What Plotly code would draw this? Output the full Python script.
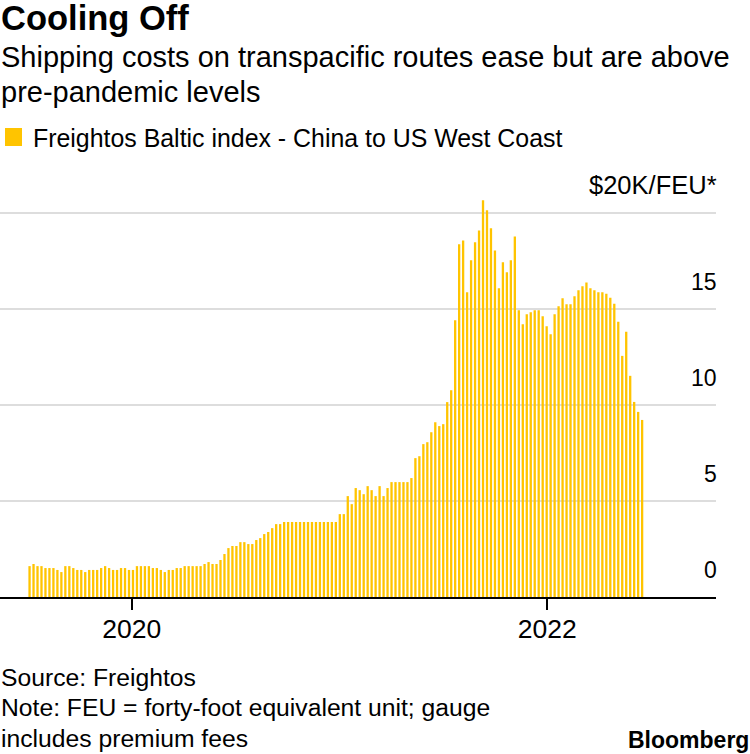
import plotly.graph_objects as go
import pandas as pd

# Weekly Freightos Baltic index, China to US West Coast ($K per FEU)
week_start = "2019-07-05"
n_weeks = 155
values = [
    1.61, 1.72, 1.61, 1.61, 1.51, 1.51, 1.51, 1.41, 1.30, 1.61,
    1.61, 1.51, 1.41, 1.41, 1.30, 1.41, 1.41, 1.41, 1.51, 1.61,
    1.51, 1.41, 1.41, 1.51, 1.51, 1.41, 1.41,
    1.61, 1.61, 1.61, 1.61, 1.51, 1.51, 1.41, 1.30, 1.41, 1.41,
    1.51, 1.51, 1.61, 1.61, 1.61, 1.61, 1.61, 1.72, 1.82, 1.72,
    1.72, 1.93, 2.24, 2.55, 2.66, 2.66,
    2.86, 2.86, 2.76, 2.76, 2.97, 3.07, 3.28, 3.39, 3.59, 3.80, 3.80,
    3.91, 3.91, 3.91, 3.91, 3.91, 3.91, 3.91, 3.91, 3.91, 3.91,
    3.91, 3.91, 3.91, 3.91,
    4.32, 4.32, 5.26, 4.84, 5.68, 5.57, 5.36, 5.78, 5.57, 5.26,
    5.78, 5.26, 5.68, 5.99, 5.99, 5.99, 5.99, 5.99, 6.20, 7.24,
    7.34, 7.97, 8.07, 8.59, 9.11, 8.91, 9.01, 10.16, 10.78,
    14.43, 18.39, 18.59, 15.89, 17.55, 18.49, 19.11, 20.68, 20.16, 19.22,
    18.07, 16.09, 17.45, 16.93, 17.55, 18.80, 14.95, 14.22, 14.74, 14.84,
    14.95, 14.95, 14.64, 14.11, 13.70, 14.74, 15.16, 15.57, 15.26, 15.26,
    15.68, 15.99, 16.20, 16.40, 16.10, 15.99, 15.89, 15.89, 15.81, 15.60,
    15.29, 14.35, 12.57, 13.83, 11.53, 10.17, 9.65, 9.23,
]
dates = pd.date_range(week_start, periods=n_weeks, freq="7D")

x_tick_vals = ["2020-01-01", "2022-01-01"]
x_tick_text = ["2020", "2022"]
y_tick_vals = [0, 5, 10, 15, 20]
y_tick_text = ["0", "5", "10", "15", "$20K/FEU*"]

title = "Cooling Off"
subtitle_1 = "Shipping costs on transpacific routes ease but are above"
subtitle_2 = "pre-pandemic levels"
legend_label = "Freightos Baltic index - China to US West Coast"
footer = ["Source: Freightos",
          "Note: FEU = forty-foot equivalent unit; gauge",
          "includes premium fees"]

BAR = "#FFC400"
FONT = "Liberation Sans, Arial, sans-serif"

W, H = 750, 754
M_T, M_B, M_L, M_R = 175, 157, 0, 34
PLOT_H = H - M_T - M_B


def py(px):
    """pixel y (from top) -> paper y"""
    return (H - M_B - px) / PLOT_H


fig = go.Figure()
fig.add_trace(go.Bar(x=dates, y=values, marker=dict(color=BAR, line=dict(width=0)),
                     name=legend_label, showlegend=False))

ann = []
ann.append(dict(text="<b>" + title + "</b>", x=0, y=py(18), xref="paper", yref="paper",
                xanchor="left", yanchor="middle", showarrow=False, xshift=-1,
                font=dict(size=34.5, color="#000", family=FONT)))
ann.append(dict(text=subtitle_1, x=0, y=py(57), xref="paper", yref="paper",
                xanchor="left", yanchor="middle", showarrow=False, xshift=-1,
                font=dict(size=29, color="#000", family=FONT)))
ann.append(dict(text=subtitle_2, x=0, y=py(92), xref="paper", yref="paper",
                xanchor="left", yanchor="middle", showarrow=False, xshift=-1,
                font=dict(size=29, color="#000", family=FONT)))
ann.append(dict(text=legend_label, x=0, y=py(138), xref="paper", yref="paper",
                xanchor="left", yanchor="middle", showarrow=False, xshift=31,
                font=dict(size=24.9, color="#000", family=FONT)))
for i, line in enumerate(footer):
    ann.append(dict(text=line, x=0, y=py(677 + 30.5 * i), xref="paper", yref="paper",
                    xanchor="left", yanchor="middle", showarrow=False, xshift=-1,
                    font=dict(size=24.7, color="#000", family=FONT)))
ann.append(dict(text="<b>Bloomberg</b>", x=1, y=py(740), xref="paper", yref="paper",
                xanchor="right", yanchor="middle", showarrow=False, xshift=M_R + 1,
                font=dict(size=23, color="#000", family=FONT)))
for v, t in zip(y_tick_vals, y_tick_text):
    ann.append(dict(text=t, x=1, y=v, xref="paper", yref="y",
                    xanchor="right", yanchor="bottom", showarrow=False, xshift=3, yshift=12,
                    font=dict(size=25.5 if v == 20 else 23, color="#000", family=FONT)))

shapes = [dict(type="rect", xref="x domain", yref="paper",
               x0=5 / (W - M_L - M_R), x1=22 / (W - M_L - M_R),
               y0=py(146), y1=py(128), fillcolor=BAR, line=dict(width=0))]

fig.update_layout(
    width=W, height=H,
    margin=dict(t=M_T, b=M_B, l=M_L, r=M_R, pad=0),
    paper_bgcolor="white", plot_bgcolor="white",
    bargap=0.42,
    annotations=ann, shapes=shapes,
    font=dict(family=FONT, color="#000"),
    xaxis=dict(type="date", range=["2019-05-14", "2022-10-25"],
               tickvals=x_tick_vals, ticktext=x_tick_text,
               ticks="outside", ticklen=11, tickwidth=2, tickcolor="#000",
               ticklabelstandoff=-4,
               showline=True, linecolor="#000", linewidth=2,
               showgrid=False, zeroline=False,
               tickfont=dict(size=26.5, family=FONT, color="#000")),
    yaxis=dict(range=[0, 22], tickvals=y_tick_vals, showticklabels=False,
               showgrid=True, gridcolor="#dddddd", gridwidth=2,
               zeroline=False, showline=False, ticks=""),
)

fig.write_html("out.html", config={"displayModeBar": False},
               post_script="document.body.style.margin='0';document.body.style.padding='0';")
